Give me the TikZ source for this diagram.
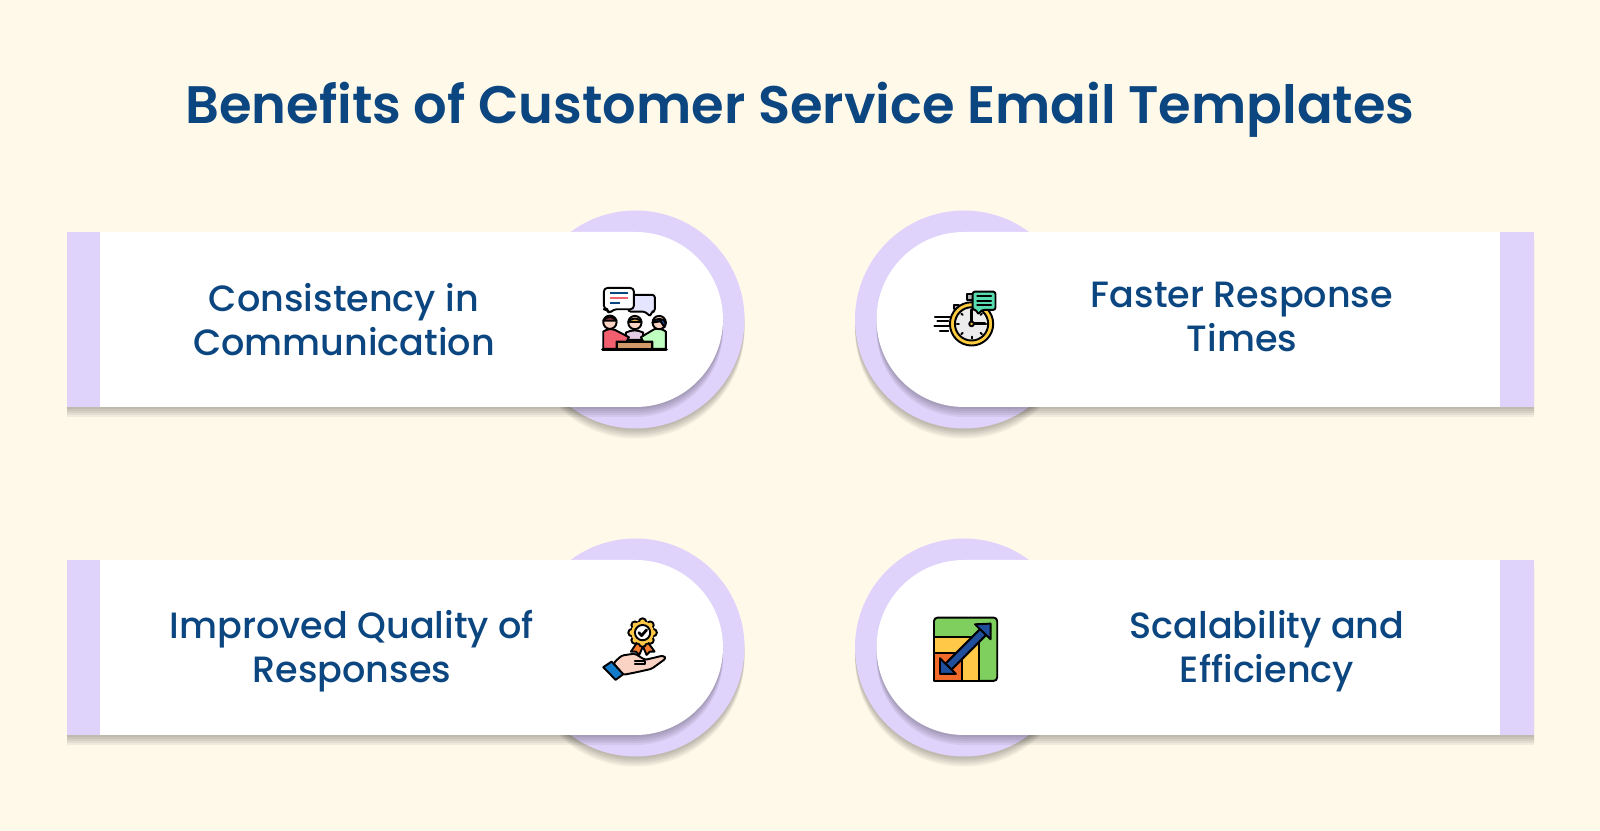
\documentclass[tikz,border=0pt]{standalone}
\usepackage{fontspec}
\setmainfont[BoldFont={Poppins SemiBold}]{Poppins Medium}
\usepackage{xcolor}
\definecolor{pagebg}{HTML}{FFF9EA}
\definecolor{lilac}{HTML}{E0D3FB}
\definecolor{navytext}{HTML}{0B4680}
\definecolor{iconnavy}{HTML}{1F4E9C}
\definecolor{iconred}{HTML}{F2606F}
\definecolor{iconskin}{HTML}{FBD3C4}
\definecolor{iconyellow}{HTML}{FFC846}
\definecolor{icongreen}{HTML}{7FCF5F}
\definecolor{iconteal}{HTML}{58DDB0}
\definecolor{iconorange}{HTML}{F26A2A}
\tikzset{
  titletext/.style={text=navytext, font=\fontsize{15}{18}\selectfont\bfseries},
  cardtext/.style={text=navytext, align=center, font=\fontsize{10.4}{12.5}\selectfont},
  cardshadow/.style={fill=black, fill opacity=0.055, draw=none},
  icon/.style={draw=black, line width=0.55pt, line join=round, line cap=round},
}
\begin{document}
\begin{tikzpicture}[x=0.01cm, y=-0.01cm]
\useasboundingbox (0,0) rectangle (1600,831);
\fill[pagebg] (0,0) rectangle (1600,831);
\node[titletext] (title) at (800,110) {Benefits of Customer Service Email Templates};

% left cards
\foreach \top in {232,560} {
  \foreach \s in {2,4,6,8,10} {
    \fill[cardshadow] (635.5,\top+87.5+\s) circle[radius=109];
  }
  \fill[lilac] (635.5,\top+87.5) circle[radius=109];
  \foreach \s in {2,4,6,8,10} {
    \fill[cardshadow] (67,\top+\s) -- (635.5,\top+\s) arc[start angle=-90, end angle=90, radius=87.5] -- (67,\top+175+\s) -- cycle;
  }
  \fill[white] (67,\top) -- (635.5,\top) arc[start angle=-90, end angle=90, radius=87.5] -- (67,\top+175) -- cycle;
  \fill[lilac] (67,\top) rectangle (100,\top+175);
}
% right cards
\foreach \top in {232,560} {
  \foreach \s in {2,4,6,8,10} {
    \fill[cardshadow] (964,\top+87.5+\s) circle[radius=109];
  }
  \fill[lilac] (964,\top+87.5) circle[radius=109];
  \foreach \s in {2,4,6,8,10} {
    \fill[cardshadow] (1534,\top+\s) -- (964,\top+\s) arc[start angle=-90, end angle=-270, radius=87.5] -- (1534,\top+175+\s) -- cycle;
  }
  \fill[white] (1534,\top) -- (964,\top) arc[start angle=-90, end angle=-270, radius=87.5] -- (1534,\top+175) -- cycle;
  \fill[lilac] (1500,\top) rectangle (1534,\top+175);
}

\node[cardtext] (consistency) at (344,320) {Consistency in\\Communication};
\node[cardtext] (faster) at (1242,317) {Faster Response\\Times};
\node[cardtext] (quality) at (352,651) {Improved Quality of\\Responses};
\node[cardtext] (scalability) at (1267,651) {Scalability and\\Efficiency};

% people talking
\begin{scope}[shift={(560,260)}, x=0.00333cm, y=-0.00333cm]
\draw[icon, fill=blue!10, rounded corners=0.7pt] (205,105) -- (285,105) -- (285,155) -- (275,155) -- (272,170) -- (255,155) -- (205,155) -- cycle;
\draw[icon, fill=white, rounded corners=1pt] (132,84) -- (222,84) -- (222,148) -- (160,148) -- (148,162) -- (142,148) -- (132,148) -- cycle;
\draw[navytext, line width=0.55pt] (150,100) -- (205,100);
\draw[iconred, line width=0.55pt] (150,114) -- (205,114);
\draw[navytext, line width=0.55pt] (150,128) -- (180,128);
\draw[icon, fill=violet!20] (198,240) -- (198,218) to[bend left=25] (250,218) -- (250,240) -- cycle;
\draw[icon, fill=iconskin] (225,188) circle[radius=20];
\draw[icon, fill=iconyellow] (205,186) to[bend left=60] (245,186) -- cycle;
\draw[icon, fill=iconred] (130,267) -- (130,215) to[bend left=25] (165,210) -- (207,232) -- (200,245) -- (170,245) -- (170,267) -- cycle;
\draw[icon, fill=iconskin] (150,187) circle[radius=20];
\draw[icon, fill=iconred!70!black] (130,182) to[bend left=60] (170,182) -- cycle;
\draw[icon, fill=green!25] (318,267) -- (318,215) to[bend right=25] (283,208) -- (243,232) -- (250,245) -- (278,245) -- (278,267) -- cycle;
\draw[icon, fill=iconskin] (298,188) circle[radius=20];
\draw[icon, fill=iconnavy] (278,188) to[bend left=70] (318,188) -- (314,202) -- (302,184) -- cycle;
\draw[icon, fill=brown!70!iconskin] (170,247) rectangle (275,267);
\draw[icon, line width=0.8pt] (128,268) -- (320,268);
\end{scope}

% stopwatch
\begin{scope}[shift={(900,260)}, x=0.00333cm, y=-0.00333cm]
\draw[icon, fill=gray!60] (162,134) rectangle (176,148);
\draw[icon, fill=gray!60] (200,103) rectangle (218,120);
\draw[icon, fill=iconyellow!90!yellow] (215,192) circle[radius=65];
\draw[icon, fill=gray!15] (215,192) circle[radius=50];
\foreach \a in {0,45,...,315} {
  \draw[icon] (215,192) ++(\a:38) -- ++(\a:6);
}
\draw[icon, line width=0.8pt] (215,192) -- (215,150);
\draw[icon, line width=0.8pt] (215,192) -- (255,192);
\draw[icon, fill=iconyellow] (215,192) circle[radius=7];
\draw[icon, fill=iconteal, rounded corners=0.7pt] (218,95) -- (287,95) -- (287,150) -- (245,150) -- (235,165) -- (230,150) -- (218,150) -- cycle;
\foreach \y in {108,122,136} {
  \draw[icon] (232,\y) -- (274,\y);
}
\draw[icon] (105,170) -- (150,170);
\draw[icon] (112,183) -- (145,183);
\draw[icon] (103,197) -- (150,197);
\draw[icon] (120,212) -- (145,212);
\end{scope}

% award on a hand
\begin{scope}[shift={(580,595)}, x=0.00333cm, y=-0.00333cm]
\draw[icon, fill=iconorange!80!iconyellow] (170,145) -- (153,170) -- (168,170) -- (178,180) -- (190,152) -- cycle;
\draw[icon, fill=iconorange!80!iconyellow] (206,145) -- (224,170) -- (210,170) -- (200,180) -- (188,152) -- cycle;
\foreach \a in {0,45,...,315} {
  \draw[icon, fill=iconyellow] (188,113) ++(\a:32) circle[radius=11];
}
\fill[iconyellow] (188,113) circle[radius=34];
\draw[icon, fill=white] (188,113) circle[radius=23];
\draw[icon, line width=0.8pt] (177,113) -- (185,122) -- (200,105);
\draw[icon, fill=iconskin, rounded corners=0.7pt] (100,205) -- (125,182) -- (165,176) -- (195,195) -- (250,182) -- (259,190) -- (215,222) -- (170,232) -- (130,240) -- cycle;
\draw[icon] (165,197) -- (195,197) -- (195,207) -- (165,207);
\draw[icon, fill=cyan!60!blue] (70,217) -- (95,200) -- (130,238) -- (107,255) -- cycle;
\end{scope}

% scaling chart
\begin{scope}[shift={(920,600)}, x=0.00333cm, y=-0.00333cm]
\draw[icon, fill=icongreen, rounded corners=1pt] (42,53) rectangle (232,243);
\fill[iconyellow] (44,110) rectangle (178,241);
\draw[icon] (42,110) -- (178,110) -- (178,243);
\draw[icon, fill=iconorange] (42,160) -- (125,160) -- (125,243) -- (42,243) -- cycle;
\draw[black, line width=3pt] (82,204) -- (190,96);
\draw[iconnavy, line width=1.7pt] (82,204) -- (190,96);
\draw[icon, fill=iconnavy] (165,73) -- (212,71) -- (212,118) -- cycle;
\draw[icon, fill=iconnavy] (60,175) -- (108,222) -- (60,222) -- cycle;
\end{scope}
\end{tikzpicture}
\end{document}
